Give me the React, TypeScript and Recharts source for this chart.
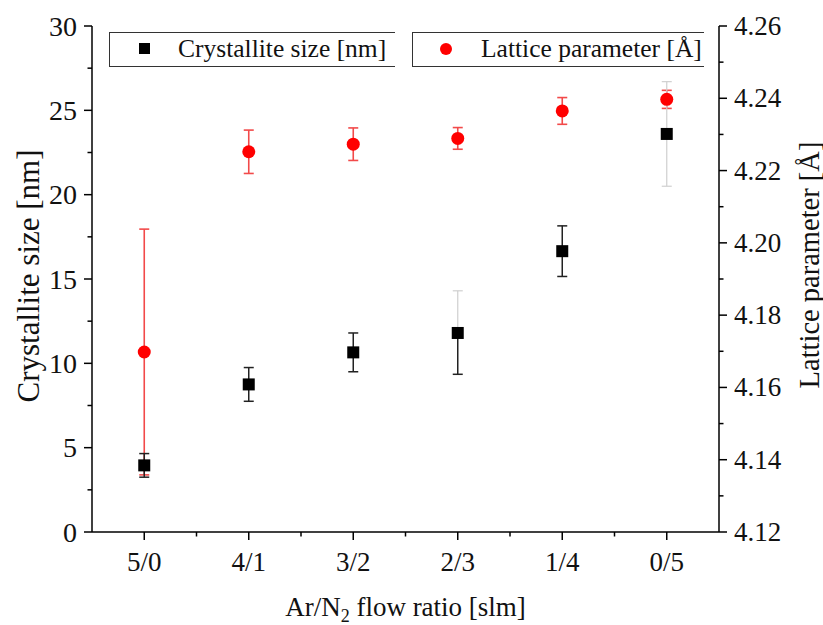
import { ScatterChart, Scatter, XAxis, YAxis, ErrorBar, Legend, Label } from "recharts";

// flow ratio categories (Ar/N2)
const categories = ["5/0", "4/1", "3/2", "2/3", "1/4", "0/5"];

// crystallite size [nm]
const crystalliteSize = [3.95, 8.75, 10.65, 11.8, 16.65, 23.6];
const sizeErrLow = [0.7, 1.0, 1.15, 2.45, 1.5, 0];
const sizeErrHigh = [0.7, 1.0, 1.15, 0, 1.5, 0];
// the faint grey parts of some error bars
const sizeErrFaintLow = [0, 0, 0, 0, 0, 3.1];
const sizeErrFaintHigh = [0, 0, 0, 2.5, 0, 3.1];

// lattice parameter [Å]
const latticeParam = [4.1698, 4.2252, 4.2273, 4.2289, 4.2365, 4.2397];
const latticeErr = [0.034, 0.006, 0.0045, 0.003, 0.0037, 0.0025];

// axis ticks
const sizeTicks = [0, 5, 10, 15, 20, 25, 30];
const latticeTicks = [4.12, 4.14, 4.16, 4.18, 4.2, 4.22, 4.24, 4.26];

const FONT = "'Liberation Serif', 'Times New Roman', serif";

const withMinor = (major: number[]) => {
  const out: number[] = [];
  major.forEach((t, i) => {
    out.push(t);
    if (i < major.length - 1) out.push((t + major[i + 1]) / 2);
  });
  return out;
};
const isMajor = (list: number[], v: number) => list.some((t) => Math.abs(t - v) < 1e-6);

const xTicks = withMinor(categories.map((_, i) => i));

const sizeData = categories.map((c, i) => ({
  x: i,
  ratio: c,
  size: crystalliteSize[i],
  err: [sizeErrLow[i], sizeErrHigh[i]],
  faint: [sizeErrFaintLow[i], sizeErrFaintHigh[i]],
}));

const latticeData = categories.map((c, i) => ({
  x: i,
  ratio: c,
  lattice: latticeParam[i],
  err: latticeErr[i],
}));

const LeftTick = (props: any) => {
  const { x, y, payload } = props;
  const major = isMajor(sizeTicks, payload.value);
  return (
    <g>
      <line x1={x} x2={x - (major ? 8 : 4.5)} y1={y} y2={y} stroke="#000" strokeWidth={1.5} />
      {major && (
        <text x={x - 15} y={y} dy={9.5} textAnchor="end" fontSize={28} fontFamily={FONT} fill="#111">
          {payload.value}
        </text>
      )}
    </g>
  );
};

const RightTick = (props: any) => {
  const { x, y, payload } = props;
  const major = isMajor(latticeTicks, payload.value);
  return (
    <g>
      <line x1={x} x2={x + (major ? 8 : 4.5)} y1={y} y2={y} stroke="#000" strokeWidth={1.5} />
      {major && (
        <text x={x + 15} y={y} dy={9} textAnchor="start" fontSize={27} fontFamily={FONT} fill="#111">
          {payload.value.toFixed(2)}
        </text>
      )}
    </g>
  );
};

const BottomTick = (props: any) => {
  const { x, y, payload } = props;
  const major = Number.isInteger(payload.value);
  return (
    <g>
      <line x1={x} x2={x} y1={y} y2={y + (major ? 8 : 4.5)} stroke="#000" strokeWidth={1.5} />
      {major && (
        <text x={x} y={y + 39} textAnchor="middle" fontSize={27} fontFamily={FONT} fill="#111">
          {categories[payload.value]}
        </text>
      )}
    </g>
  );
};

const Square = (props: any) => (
  <rect x={props.cx - 6} y={props.cy - 6} width={12} height={12} fill="#000" />
);
const Dot = (props: any) => <circle cx={props.cx} cy={props.cy} r={6.5} fill="#ff0000" />;

const legendBox = (left: number, width: number): React.CSSProperties => ({
  position: "absolute",
  left,
  top: 32,
  width,
  height: 35,
  borderLeft: "1.5px solid #333",
  borderTop: "1.5px solid #333",
  borderBottom: "1.5px solid #333",
  boxSizing: "border-box",
});

const LegendContent = () => (
  <div style={{ position: "relative", width: 823, height: 80, fontFamily: FONT, fontSize: 25.5, color: "#111" }}>
    <div style={legendBox(109, 286)}>
      <div style={{ position: "absolute", left: 29, top: 10, width: 11, height: 11, background: "#000" }} />
      <span style={{ position: "absolute", left: 68, top: 1, whiteSpace: "nowrap" }}>Crystallite size [nm]</span>
    </div>
    <div style={legendBox(412, 292)}>
      <div style={{ position: "absolute", left: 27, top: 10, width: 12, height: 12, borderRadius: 6, background: "#ff0000" }} />
      <span style={{ position: "absolute", left: 68, top: 1, whiteSpace: "nowrap" }}>Lattice parameter [Å]</span>
    </div>
  </div>
);

export default function App() {
  return (
    <div style={{ position: "absolute", left: 0, top: 0, background: "#fff" }}>
      <ScatterChart width={823} height={625} margin={{ top: 26, right: 0, bottom: 0, left: 0 }}>
        <XAxis
          type="number"
          dataKey="x"
          domain={[-0.5, 5.5]}
          ticks={xTicks}
          interval={0}
          height={93}
          tickSize={0}
          tickMargin={0}
          tickLine={false}
          axisLine={{ stroke: "#000", strokeWidth: 1.5 }}
          tick={<BottomTick />}
        >
          <Label
            content={(p: any) => (
              <text
                x={p.viewBox.x + p.viewBox.width / 2}
                y={p.viewBox.y + 84}
                textAnchor="middle"
                fontSize={27}
                fontFamily={FONT}
                fill="#111"
              >
                Ar/N<tspan fontSize={18} dy={6}>2</tspan>
                <tspan dy={-6}> flow ratio [slm]</tspan>
              </text>
            )}
          />
        </XAxis>
        <YAxis
          yAxisId="size"
          orientation="left"
          type="number"
          domain={[0, 30]}
          ticks={withMinor(sizeTicks)}
          interval={0}
          width={92}
          tickSize={0}
          tickMargin={0}
          tickLine={false}
          axisLine={{ stroke: "#000", strokeWidth: 1.5 }}
          tick={<LeftTick />}
        >
          <Label
            content={(p: any) => {
              const cx = p.viewBox.x + 28;
              const cy = p.viewBox.y + p.viewBox.height / 2 - 3;
              return (
                <text
                  transform={`translate(${cx}, ${cy}) rotate(-90)`}
                  textAnchor="middle"
                  dominantBaseline="central"
                  fontSize={31}
                  fontFamily={FONT}
                  fill="#111"
                >
                  Crystallite size [nm]
                </text>
              );
            }}
          />
        </YAxis>
        <YAxis
          yAxisId="lattice"
          orientation="right"
          type="number"
          domain={[4.12, 4.26]}
          ticks={withMinor(latticeTicks)}
          interval={0}
          width={104}
          tickSize={0}
          tickMargin={0}
          tickLine={false}
          axisLine={{ stroke: "#000", strokeWidth: 1.5 }}
          tick={<RightTick />}
        >
          <Label
            content={(p: any) => {
              const cx = p.viewBox.x + 90;
              const cy = p.viewBox.y + p.viewBox.height / 2 - 14;
              return (
                <text
                  transform={`translate(${cx}, ${cy}) rotate(-90)`}
                  textAnchor="middle"
                  dominantBaseline="central"
                  fontSize={28.5}
                  fontFamily={FONT}
                  fill="#111"
                >
                  Lattice parameter [Å]
                </text>
              );
            }}
          />
        </YAxis>
        <Legend layout="horizontal" verticalAlign="middle" wrapperStyle={{ left: 0, top: 0, width: 823, height: 80 }} content={<LegendContent />} />
        <Scatter
          name="Lattice parameter [Å]"
          data={latticeData}
          dataKey="lattice"
          yAxisId="lattice"
          shape={<Dot />}
          isAnimationActive={false}
        >
          <ErrorBar dataKey="err" direction="y" width={5} stroke="#f24a4a" strokeWidth={1.6} isAnimationActive={false} />
        </Scatter>
        <Scatter
          name="Crystallite size [nm]"
          data={sizeData}
          dataKey="size"
          yAxisId="size"
          shape={<Square />}
          isAnimationActive={false}
        >
          <ErrorBar dataKey="faint" direction="y" width={5} stroke="#cfcfcf" strokeWidth={1.2} isAnimationActive={false} />
          <ErrorBar dataKey="err" direction="y" width={5} stroke="#222" strokeWidth={1.5} isAnimationActive={false} />
        </Scatter>
      </ScatterChart>
    </div>
  );
}
